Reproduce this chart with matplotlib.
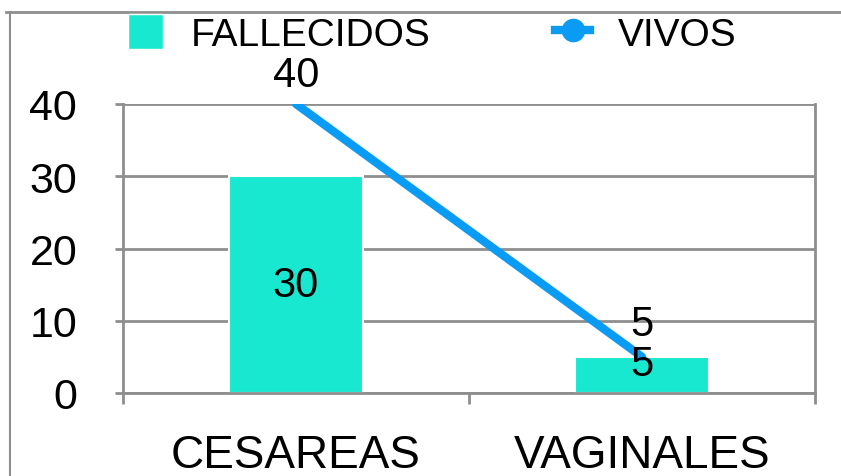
import matplotlib.pyplot as plt
from matplotlib.lines import Line2D
from matplotlib.patches import Patch

# data
categories = ["CESAREAS", "VAGINALES"]
fallecidos = [30, 5]
vivos = [40, 5]

teal = "#19E8D0"
blue = "#0A9CF5"
gray = "#8E8E8E"

plt.rcParams['font.family'] = ['Liberation Sans', 'DejaVu Sans']

fig = plt.figure(figsize=(8.41, 4.77), dpi=100)
ax = fig.add_axes([123 / 841, 1 - 394 / 477, (815 - 123) / 841, (394 - 105) / 477])

x = list(range(len(categories)))

# bars
ax.bar(x, fallecidos, width=0.39, color=teal, edgecolor="white", linewidth=1.5, zorder=2)
# line
ax.plot(x, vivos, color=blue, linewidth=6, solid_capstyle="round", zorder=3)

# data labels
for xi, v in zip(x, fallecidos):
    ax.text(xi, v / 2 if v > 10 else v - 1, str(v), ha="center", va="center",
            fontsize=30, zorder=4)
for xi, v in zip(x, vivos):
    ax.text(xi, v + 4 if v > 10 else v + 4.5, str(v), ha="center", va="center",
            fontsize=30, zorder=4)

# axes styling
ax.set_xlim(-0.5, len(categories) - 0.5)
ax.set_ylim(0, 40)
ax.set_yticks([0, 10, 20, 30, 40])
ax.yaxis.grid(True, color=gray, linewidth=2)
ax.set_axisbelow(True)
for s in ["left", "right", "bottom"]:
    ax.spines[s].set_color(gray)
    ax.spines[s].set_linewidth(2)
ax.spines["top"].set_visible(False)

ax.set_xticks(x)
ax.set_xticklabels(categories, fontsize=33)
ax.set_xticks([-0.5, 0.5, 1.5], minor=True)
ax.tick_params(axis="x", which="major", length=0, pad=29)
ax.tick_params(axis="x", which="minor", length=8, width=2, color=gray, direction="out")
ax.tick_params(axis="y", length=6, width=2, color=gray, labelsize=31, pad=27)
for lab in ax.get_yticklabels():
    lab.set_horizontalalignment("right")

# legend
handles = [Patch(facecolor=teal, edgecolor="white"),
           Line2D([0], [0], color=blue, linewidth=6, marker="o", markersize=16)]
fig.legend(handles, ["FALLECIDOS", "VIVOS"], loc="center", bbox_to_anchor=(0.514, 0.927),
           ncol=2, frameon=False, fontsize=28, columnspacing=3.2, handlelength=0.9,
           handletextpad=0.72, handleheight=1.0, borderpad=0)

# outer border
fig.add_artist(Line2D([6 / 841, 1], [1 - 13 / 477] * 2, color=gray, linewidth=2,
                      transform=fig.transFigure))
fig.add_artist(Line2D([10 / 841] * 2, [0, 1 - 13 / 477], color=gray, linewidth=1.5,
                      transform=fig.transFigure))

fig.savefig("out.png", dpi=100)
